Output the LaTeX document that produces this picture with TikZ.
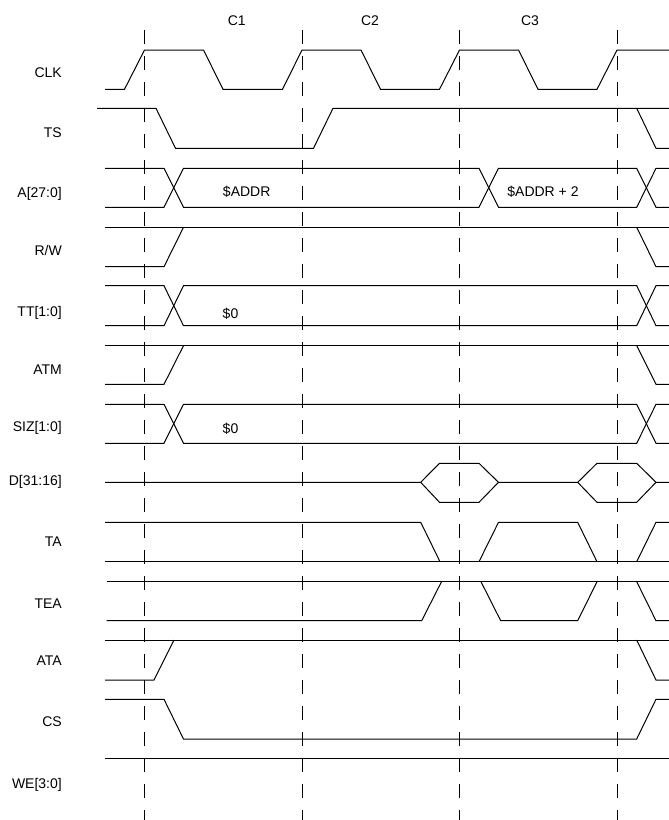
\documentclass[tikz,border=0pt]{standalone}
\usepackage{fontspec}
\setmainfont{Liberation Sans}
\begin{document}
\begin{tikzpicture}[x=1pt,y=-1pt,
  sig/.style={line width=1pt, line join=miter},
  clkdash/.style={line width=1pt, dash pattern=on 14pt off 12pt},
  lab/.style={anchor=base east, inner sep=0pt, font=\fontsize{14}{16}\selectfont},
  txt/.style={anchor=base, inner sep=0pt, font=\fontsize{14}{16}\selectfont}]
\useasboundingbox (0,0) rectangle (669,820);

% cycle boundaries
\foreach \x/\n in {144.5/a,302/b,459.5/c,617/d}{
  \coordinate (top\n) at (\x,30);
  \coordinate (bot\n) at (\x,820);
  \draw[clkdash] (top\n) -- (bot\n);
}
\node[txt] (c1) at (236.7,25) {C1};
\node[txt] (c2) at (370,25) {C2};
\node[txt] (c3) at (530,25) {C3};

% signal names
\node[lab] (lclk) at (62,77.7) {CLK};
\node[lab] (lts) at (62,137.7) {TS};
\node[lab] (la) at (62,197.7) {A[27:0]};
\node[lab] (lrw) at (62,255) {R/W};
\node[lab] (ltt) at (62,316.7) {TT[1:0]};
\node[lab] (latm) at (62,374) {ATM};
\node[lab] (lsiz) at (62,431.7) {SIZ[1:0]};
\node[lab] (ld) at (62,485) {D[31:16]};
\node[lab] (lta) at (62,546) {TA};
\node[lab] (ltea) at (62,608.3) {TEA};
\node[lab] (lata) at (62,665) {ATA};
\node[lab] (lcs) at (62,726.7) {CS};
\node[lab] (lwe) at (62,788.3) {WE[3:0]};

% CLK
\draw[sig] (105,89.3) -- (124.5,89.3) -- (144.5,50) -- (203.5,50) -- (223,89.3) -- (282.5,89.3) -- (302,50) -- (361,50) -- (380.5,89.3) -- (439.5,89.3) -- (459.5,50) -- (518.5,50) -- (538,89.3) -- (597,89.3) -- (617,50) -- (669,50);

% TS
\draw[sig] (97,108.3) -- (156,108.3) -- (175.5,148.3) -- (313.5,148.3) -- (333,108.3) -- (669,108.3);
\draw[sig] (636.7,108.3) -- (656,148.3) -- (669,148.3);

% A[27:0]
\draw[sig] (105,168.3) -- (164,168.3) -- (183.5,207.3) -- (479,207.3) -- (498.5,168.3) -- (636.7,168.3) -- (656,207.3) -- (669,207.3);
\draw[sig] (105,207.3) -- (164,207.3) -- (183.5,168.3) -- (479,168.3) -- (498.5,207.3) -- (636.7,207.3) -- (656,168.3) -- (669,168.3);
\node[txt] (addr) at (246.7,196.7) {\$ADDR};
\node[txt] (addr2) at (543,196.7) {\$ADDR + 2};

% R/W
\draw[sig] (105,227.3) -- (669,227.3);
\draw[sig] (105,266.7) -- (164,266.7) -- (183.5,227.3);
\draw[sig] (636.7,227.3) -- (656,266.7) -- (669,266.7);

% TT[1:0]
\draw[sig] (105,285.7) -- (164,285.7) -- (183.5,325.7) -- (636.7,325.7) -- (656,285.7) -- (669,285.7);
\draw[sig] (105,325.7) -- (164,325.7) -- (183.5,285.7) -- (636.7,285.7) -- (656,325.7) -- (669,325.7);
\node[txt] (tt0) at (230.5,318.5) {\$0};

% ATM
\draw[sig] (105,345.7) -- (669,345.7);
\draw[sig] (105,384.3) -- (164,384.3) -- (183.5,345.7);
\draw[sig] (636.7,345.7) -- (656,384.3) -- (669,384.3);

% SIZ[1:0]
\draw[sig] (105,404.3) -- (164,404.3) -- (183.5,443.3) -- (636.7,443.3) -- (656,404.3) -- (669,404.3);
\draw[sig] (105,443.3) -- (164,443.3) -- (183.5,404.3) -- (636.7,404.3) -- (656,443.3) -- (669,443.3);
\node[txt] (siz0) at (230.5,433.5) {\$0};

% D[31:16]
\draw[sig] (105,482.3) -- (420.7,482.3) -- (439.5,463.3) -- (479,463.3) -- (498.5,482.3) -- (577.7,482.3) -- (597,463.3) -- (636.7,463.3) -- (656,482.3) -- (669,482.3);
\draw[sig] (420.7,482.3) -- (439.5,502.3) -- (479,502.3) -- (498.5,482.3);
\draw[sig] (577.7,482.3) -- (597,502.3) -- (636.7,502.3) -- (656,482.3);

% TA
\draw[sig] (105,522.3) -- (420.7,522.3) -- (440,561.7);
\draw[sig] (479,561.7) -- (498.5,522.3) -- (577.7,522.3) -- (597,561.7);
\draw[sig] (636.7,561.7) -- (656,522.3) -- (669,522.3);
\draw[sig] (105,561.7) -- (669,561.7);

% TEA
\draw[sig] (106.7,581.7) -- (669,581.7);
\draw[sig] (106.7,620.7) -- (421.7,620.7) -- (441.5,581.7);
\draw[sig] (481,581.7) -- (500.7,620.7) -- (577.7,620.7) -- (597,581.7);
\draw[sig] (636.7,581.7) -- (656,620.7) -- (669,620.7);

% ATA
\draw[sig] (105,640) -- (669,640);
\draw[sig] (105,680) -- (154,680) -- (174,640);
\draw[sig] (636.7,640) -- (656,680) -- (669,680);

% CS
\draw[sig] (105,699.3) -- (164,699.3) -- (183.5,739) -- (636.7,739) -- (656,699.3) -- (669,699.3);

% WE[3:0]
\draw[sig] (105,758.7) -- (669,758.7);
\end{tikzpicture}
\end{document}
